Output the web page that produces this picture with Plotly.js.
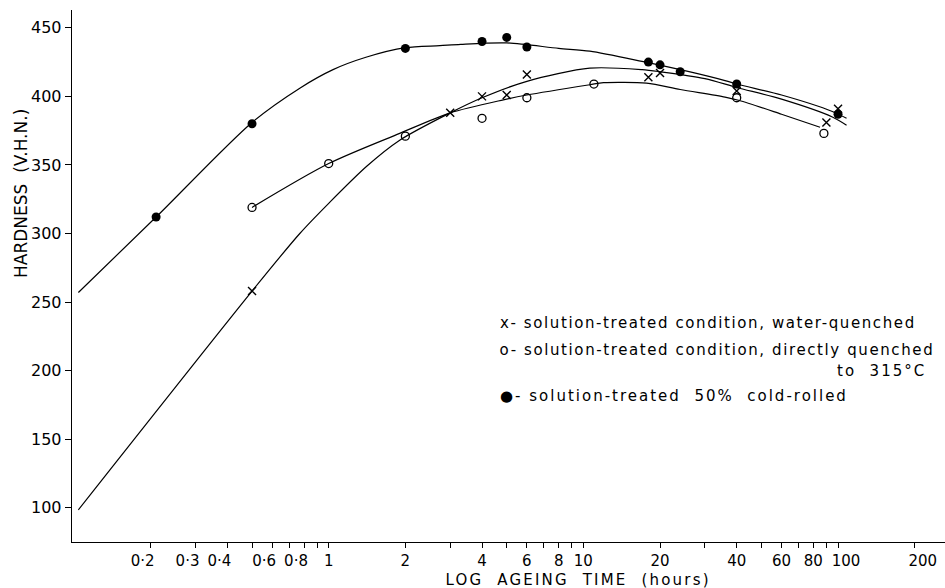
<!DOCTYPE html>
<html><head><meta charset="utf-8">
<script src="https://cdn.plot.ly/plotly-3.0.1.min.js"></script>
<style>
body{margin:0;background:#fff}
.annotation[data-index="0"] text,
.annotation[data-index="1"] text{letter-spacing:1.6px}
.annotation[data-index="2"] text,
.annotation[data-index="3"] text{letter-spacing:2px}
.annotation[data-index="4"] text{letter-spacing:2.2px}
</style>
</head><body>
<div id="chart" style="width:945px;height:588px"></div>
<script>
// Measured points (ageing time in hours, hardness V.H.N.)
const waterT = [0.5, 3, 4, 5, 6, 18, 20, 40, 90, 100];
const waterH = [258, 388, 400, 401, 416, 414, 417, 404, 381, 391];
const directT = [0.5, 1, 2, 4, 6, 11, 40, 88];
const directH = [319, 351, 371, 384, 399, 409, 399, 373];
const rolledT = [0.21, 0.5, 2, 4, 5, 6, 18, 20, 24, 40, 100];
const rolledH = [312, 380, 435, 440, 443, 436, 425, 423, 418, 409, 387];

// Drawn curves
const waterCurveT = [0.104, 0.5, 0.77, 1, 1.41, 1.9, 3, 4, 6, 10.6, 17, 20, 30, 40, 60, 95, 108];
const waterCurveH = [98.5, 258, 300, 322, 349, 368, 388, 399, 411, 420.6, 419.5, 418, 413, 406.5, 398, 385, 379];
const directCurveT = [0.5, 1, 1.9, 3, 4.85, 6, 10.6, 12, 17.7, 24, 36, 41, 60, 85];
const directCurveH = [319, 351, 373, 388, 397.5, 401, 408.5, 410, 409.6, 405, 399.5, 397, 387, 377.5];
const rolledCurveT = [0.104, 0.21, 0.5, 0.77, 1.04, 1.4, 2, 2.73, 3.3, 5, 8, 10.6, 17, 26, 36, 41, 60, 95, 108];
const rolledCurveH = [257, 312, 381, 406, 419.5, 428.5, 435.5, 437, 438, 439, 435, 433, 425.5, 418, 411.5, 408.5, 401, 389, 384];

// Axis ticks
const xTickVals = [0.2,0.3,0.4,0.5,0.6,0.7,0.8,0.9,1,2,3,4,5,6,7,8,9,10,20,30,40,50,60,70,80,90,100,200];
const xMidLabels = {1:'1',2:'2',4:'4',6:'6',8:'8',10:'10',20:'20',40:'40',60:'60',80:'80'};
const xSmallVals = [0.2, 0.3, 0.4, 0.6, 0.8];
const xSmallText = ['0·2', '0·3', '0·4', '0·6', '0·8'];
const xBigVals = [100, 200];
const xBigText = ['100', '200'];
const yTickVals = [100,150,200,250,300,350,400,450];

// Legend texts
const legendLines = [
  'x- solution-treated condition, water-quenched',
  'o- solution-treated condition, directly quenched',
  'to  315°C',
  '●- solution-treated  50%  cold-rolled'
];

const FONT = 'DejaVu Sans';
const L = 72, T = 10, W = 945, H = 588, B = 46;
const pw = W - L, ph = H - T - B;
const PX = x => (x - L) / pw;
const PY = y => (H - B - y) / ph;
const XRANGE = [-1.008, 2.42];

const lineStyle = {color: '#000', width: 1.2, shape: 'spline', smoothing: 0.8};
const traces = [
  {x: rolledCurveT, y: rolledCurveH, mode: 'lines', line: lineStyle, hoverinfo: 'skip'},
  {x: waterCurveT, y: waterCurveH, mode: 'lines', line: lineStyle, hoverinfo: 'skip', xaxis: 'x2'},
  {x: directCurveT, y: directCurveH, mode: 'lines', line: lineStyle, hoverinfo: 'skip', xaxis: 'x3'},
  {x: directT, y: directH, mode: 'markers', name: 'directly quenched',
   marker: {symbol: 'circle', size: 8, color: '#fff', line: {color: '#000', width: 1.3}}},
  {x: waterT, y: waterH, mode: 'markers', name: 'water-quenched',
   marker: {symbol: 'x-thin-open', size: 8, color: '#000', line: {color: '#000', width: 1.4}}},
  {x: rolledT, y: rolledH, mode: 'markers', name: 'cold-rolled',
   marker: {symbol: 'circle', size: 9, color: '#000', line: {color: '#000', width: 0}}}
];

const legLeft = 498;
const annotations = [
  {text: legendLines[0], x: PX(legLeft + 45 * 0.8), y: PY(323), xanchor: 'left', yanchor: 'middle'},
  {text: legendLines[1], x: PX(legLeft + 48 * 0.8), y: PY(350), xanchor: 'left', yanchor: 'middle'},
  {text: legendLines[2], x: PX(928 - 9), y: PY(371), xanchor: 'right', yanchor: 'middle'},
  {text: legendLines[3], x: PX(legLeft + 37), y: PY(396), xanchor: 'left', yanchor: 'middle'},
  {text: 'LOG  AGEING  TIME  (hours)', x: PX(578), y: PY(580), xanchor: 'center', yanchor: 'middle',
   font: {family: FONT, size: 15, color: '#000'}},
  {text: 'HARDNESS  (V.H.N.)', x: PX(21), y: PY(194), xanchor: 'center', yanchor: 'middle', textangle: -90,
   font: {family: FONT, size: 17, color: '#000'}}
].map(a => Object.assign({xref: 'paper', yref: 'paper', showarrow: false,
  font: {family: FONT, size: 15, color: '#000'}}, a));

const tickFont = {family: FONT, size: 15, color: '#000'};
const overlayAxis = (vals, text, shift) => ({
  type: 'log', range: XRANGE, overlaying: 'x', anchor: 'y', side: 'bottom',
  tickvals: vals, ticktext: text, tickangle: 0,
  ticks: 'outside', ticklen: 5, tickwidth: 1, tickcolor: 'rgba(0,0,0,0)', ticklabelshift: shift,
  showline: false, showgrid: false, zeroline: false, tickfont: tickFont
});
const layout = {
  width: W, height: H,
  margin: {l: L, r: 0, t: T, b: B, pad: 0},
  paper_bgcolor: '#fff', plot_bgcolor: '#fff',
  showlegend: false,
  font: {family: FONT, color: '#000', size: 15},
  xaxis: {
    type: 'log', range: XRANGE,
    tickvals: xTickVals, ticktext: xTickVals.map(v => xMidLabels[v] || ''), tickangle: 0,
    ticks: 'outside', ticklen: 5, tickwidth: 1, tickcolor: '#000',
    showline: true, linecolor: '#000', linewidth: 1.3,
    showgrid: false, zeroline: false, tickfont: tickFont
  },
  xaxis2: overlayAxis(xBigVals, xBigText, 8),
  xaxis3: overlayAxis(xSmallVals, xSmallText, -8),
  yaxis: {
    range: [75, 463],
    tickvals: yTickVals,
    ticks: 'outside', ticklen: 6, tickwidth: 1, tickcolor: '#000',
    showline: true, linecolor: '#000', linewidth: 1.3,
    showgrid: false, zeroline: false,
    tickfont: {family: FONT, size: 16, color: '#000'}
  },
  annotations: annotations
};

Plotly.newPlot('chart', traces, layout, {staticPlot: true, displayModeBar: false});
</script>
</body></html>
